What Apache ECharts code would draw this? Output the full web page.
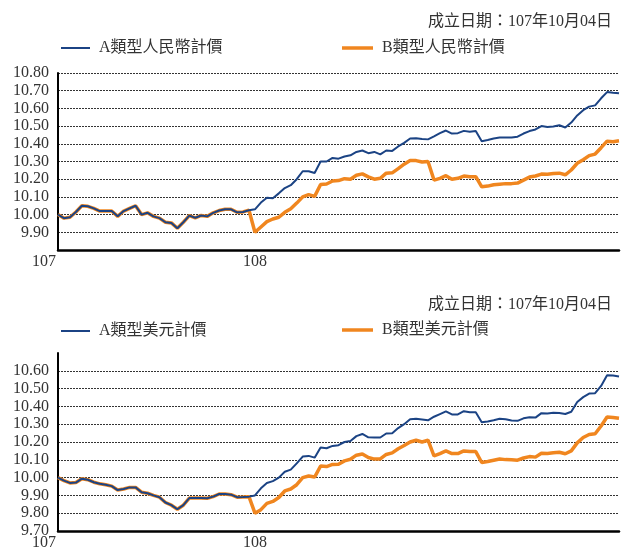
<!DOCTYPE html>
<html>
<head>
<meta charset="utf-8">
<script src="https://cdn.jsdelivr.net/npm/echarts@6/dist/echarts.min.js"></script>
<style>
  html, body { margin: 0; padding: 0; background: #fff; }
  #main { width: 622px; height: 551px; }
</style>
</head>
<body>
<div id="main"></div>
<script>
// x軸只標年份 107 / 108
const xTickLabels = ['107', '108'];
const xTickIndex = [0, 33];
const points = 95;

// 人民幣計價
const rmbA = [10.00, 9.98, 9.985, 10.015, 10.05, 10.047, 10.035, 10.02, 10.02, 10.02,
  9.99, 10.02, 10.035, 10.05, 10.00, 10.01, 9.99, 9.98, 9.957, 9.953,
  9.923, 9.957, 9.994, 9.982, 9.995, 9.99, 10.01, 10.023, 10.03, 10.03,
  10.013, 10.015, 10.025, 10.03, 10.068, 10.095, 10.092, 10.12, 10.15, 10.166,
  10.20, 10.245, 10.245, 10.235, 10.30, 10.30, 10.32, 10.316, 10.328, 10.335,
  10.354, 10.362, 10.347, 10.354, 10.34, 10.362, 10.36, 10.385, 10.405, 10.43,
  10.432, 10.427, 10.425, 10.442, 10.46, 10.475, 10.458, 10.46, 10.473, 10.468,
  10.472, 10.415, 10.421, 10.43, 10.435, 10.435, 10.435, 10.44, 10.458, 10.472,
  10.481, 10.50, 10.495, 10.498, 10.505, 10.492, 10.52, 10.56, 10.59, 10.61,
  10.617, 10.657, 10.692, 10.688, 10.685];
const rmbB = [10.00, 9.98, 9.985, 10.015, 10.05, 10.047, 10.035, 10.02, 10.02, 10.02,
  9.99, 10.02, 10.035, 10.05, 10.00, 10.01, 9.99, 9.98, 9.957, 9.953,
  9.923, 9.957, 9.994, 9.982, 9.995, 9.99, 10.01, 10.023, 10.03, 10.03,
  10.013, 10.015, 10.025, 9.90, 9.93, 9.96, 9.975, 9.985, 10.013, 10.033,
  10.065, 10.10, 10.113, 10.103, 10.17, 10.173, 10.19, 10.192, 10.203, 10.20,
  10.222, 10.23, 10.213, 10.20, 10.205, 10.234, 10.236, 10.26, 10.285, 10.305,
  10.305, 10.297, 10.30, 10.195, 10.205, 10.22, 10.20, 10.205, 10.218, 10.214,
  10.214, 10.157, 10.161, 10.169, 10.172, 10.175, 10.175, 10.178, 10.195, 10.212,
  10.218, 10.229, 10.228, 10.232, 10.234, 10.225, 10.252, 10.29, 10.31, 10.333,
  10.342, 10.378, 10.415, 10.412, 10.417];

// 美元計價
const usdA = [10.00, 9.983, 9.97, 9.972, 9.994, 9.988, 9.974, 9.965, 9.96, 9.952,
  9.93, 9.936, 9.945, 9.945, 9.918, 9.912, 9.90, 9.89, 9.86, 9.845,
  9.822, 9.845, 9.885, 9.885, 9.885, 9.884, 9.893, 9.908, 9.908, 9.904,
  9.89, 9.891, 9.893, 9.90, 9.94, 9.97, 9.98, 10.00, 10.033, 10.045,
  10.08, 10.118, 10.122, 10.112, 10.169, 10.165, 10.178, 10.182, 10.20, 10.206,
  10.233, 10.245, 10.226, 10.225, 10.225, 10.248, 10.249, 10.278, 10.30, 10.328,
  10.33, 10.327, 10.322, 10.342, 10.357, 10.372, 10.355, 10.355, 10.373, 10.367,
  10.367, 10.311, 10.315, 10.322, 10.331, 10.328, 10.321, 10.319, 10.333, 10.339,
  10.337, 10.362, 10.36, 10.364, 10.363, 10.357, 10.37, 10.425, 10.452, 10.472,
  10.474, 10.515, 10.575, 10.573, 10.568];
const usdB = [10.00, 9.983, 9.97, 9.972, 9.994, 9.988, 9.974, 9.965, 9.96, 9.952,
  9.93, 9.936, 9.945, 9.945, 9.918, 9.912, 9.90, 9.89, 9.86, 9.845,
  9.822, 9.845, 9.885, 9.885, 9.885, 9.884, 9.893, 9.908, 9.908, 9.904,
  9.89, 9.891, 9.893, 9.80, 9.82, 9.855, 9.866, 9.888, 9.925, 9.936,
  9.96, 10.00, 10.009, 10.003, 10.065, 10.062, 10.074, 10.075, 10.094, 10.103,
  10.126, 10.133, 10.113, 10.104, 10.105, 10.13, 10.139, 10.162, 10.18, 10.20,
  10.21, 10.20, 10.21, 10.122, 10.135, 10.15, 10.135, 10.135, 10.15, 10.146,
  10.146, 10.085, 10.09, 10.097, 10.104, 10.101, 10.10, 10.098, 10.11, 10.118,
  10.115, 10.137, 10.135, 10.139, 10.142, 10.134, 10.15, 10.195, 10.225, 10.242,
  10.246, 10.29, 10.34, 10.338, 10.334];

const seriesNames = ['A類型人民幣計價', 'B類型人民幣計價', 'A類型美元計價', 'B類型美元計價'];
const titleText = '成立日期：107年10月04日';

const font = "'Liberation Serif', 'Noto Sans CJK TC', serif";
const blue = '#1b4384';
const orange = '#f0861f';
const textColor = '#333';

const categories = [];
for (let i = 0; i < points; i++) categories.push(String(i));

function xAxisCfg(gridIndex) {
  return {
    type: 'category',
    gridIndex: gridIndex,
    data: categories,
    boundaryGap: false,
    axisTick: { show: false },
    axisLine: { show: true, lineStyle: { color: '#000', width: 2.5 } },
    splitLine: { show: false },
    axisLabel: {
      interval: 0,
      margin: 4,
      fontFamily: font,
      fontSize: 16,
      color: textColor,
      formatter: function (v, idx) {
        let k = xTickIndex.indexOf(idx);
        if (k < 0) return '';
        return k === 0 ? '{first|' + xTickLabels[k] + '}' : '{mid|' + xTickLabels[k] + '}';
      },
      rich: {
        first: { padding: [0, 28, 0, 0], fontFamily: font, fontSize: 16, color: textColor },
        mid: { padding: [0, 0, 0, 0], fontFamily: font, fontSize: 16, color: textColor }
      }
    }
  };
}

function yAxisCfg(gridIndex, min, max, hideMinLabel, hideMaxLabel, hideMaxLine) {
  return {
    type: 'value',
    gridIndex: gridIndex,
    min: min,
    max: max,
    interval: 0.1,
    axisTick: { show: false },
    axisLine: { show: true, lineStyle: { color: '#000', width: 2 } },
    axisLabel: {
      margin: 9,
      fontFamily: font,
      fontSize: 16,
      color: textColor,
      showMinLabel: !hideMinLabel,
      showMaxLabel: !hideMaxLabel,
      formatter: function (v) { return v.toFixed(2); }
    },
    splitLine: {
      show: true,
      showMinLine: false,
      showMaxLine: !hideMaxLine,
      lineStyle: { color: '#333', width: 1, type: [2, 1] }
    }
  };
}

function lineSeries(name, data, idx, color, width, z) {
  return {
    name: name,
    type: 'line',
    xAxisIndex: idx,
    yAxisIndex: idx,
    data: data,
    showSymbol: false,
    symbol: 'none',
    z: z,
    lineStyle: { color: color, width: width },
    itemStyle: { color: color }
  };
}

function legendCfg(name, left, top, color, h, w) {
  return {
    data: [name],
    left: left,
    top: top,
    padding: 0,
    icon: 'rect',
    itemWidth: w,
    itemHeight: h,
    selectedMode: false,
    itemStyle: { color: color },
    textStyle: { fontFamily: font, fontSize: 16, color: textColor, padding: [0, 0, 0, 4] }
  };
}

const chart = echarts.init(document.getElementById('main'));
chart.setOption({
  animation: false,
  backgroundColor: '#fff',
  title: [
    { text: titleText, left: 428, top: 14, padding: 0,
      textStyle: { fontFamily: font, fontSize: 16, fontWeight: 'normal', color: textColor } },
    { text: titleText, left: 428, top: 297, padding: 0,
      textStyle: { fontFamily: font, fontSize: 16, fontWeight: 'normal', color: textColor } }
  ],
  legend: [
    legendCfg(seriesNames[0], 61, 40, blue, 2, 29),
    legendCfg(seriesNames[1], 342, 40, orange, 3.5, 31),
    legendCfg(seriesNames[2], 61, 323, blue, 2, 29),
    legendCfg(seriesNames[3], 342, 322, orange, 3.5, 31)
  ],
  grid: [
    { left: 58, right: 0, top: 73, height: 177 },
    { left: 58, right: 0, top: 353, height: 178 }
  ],
  xAxis: [xAxisCfg(0), xAxisCfg(1)],
  yAxis: [
    yAxisCfg(0, 9.8, 10.8, true, false, false),
    yAxisCfg(1, 9.7, 10.7, false, true, true)
  ],
  series: [
    lineSeries(seriesNames[1], rmbB, 0, orange, 3.5, 2),
    lineSeries(seriesNames[0], rmbA, 0, blue, 2, 3),
    lineSeries(seriesNames[3], usdB, 1, orange, 3.5, 2),
    lineSeries(seriesNames[2], usdA, 1, blue, 2, 3)
  ]
});
</script>
</body>
</html>
